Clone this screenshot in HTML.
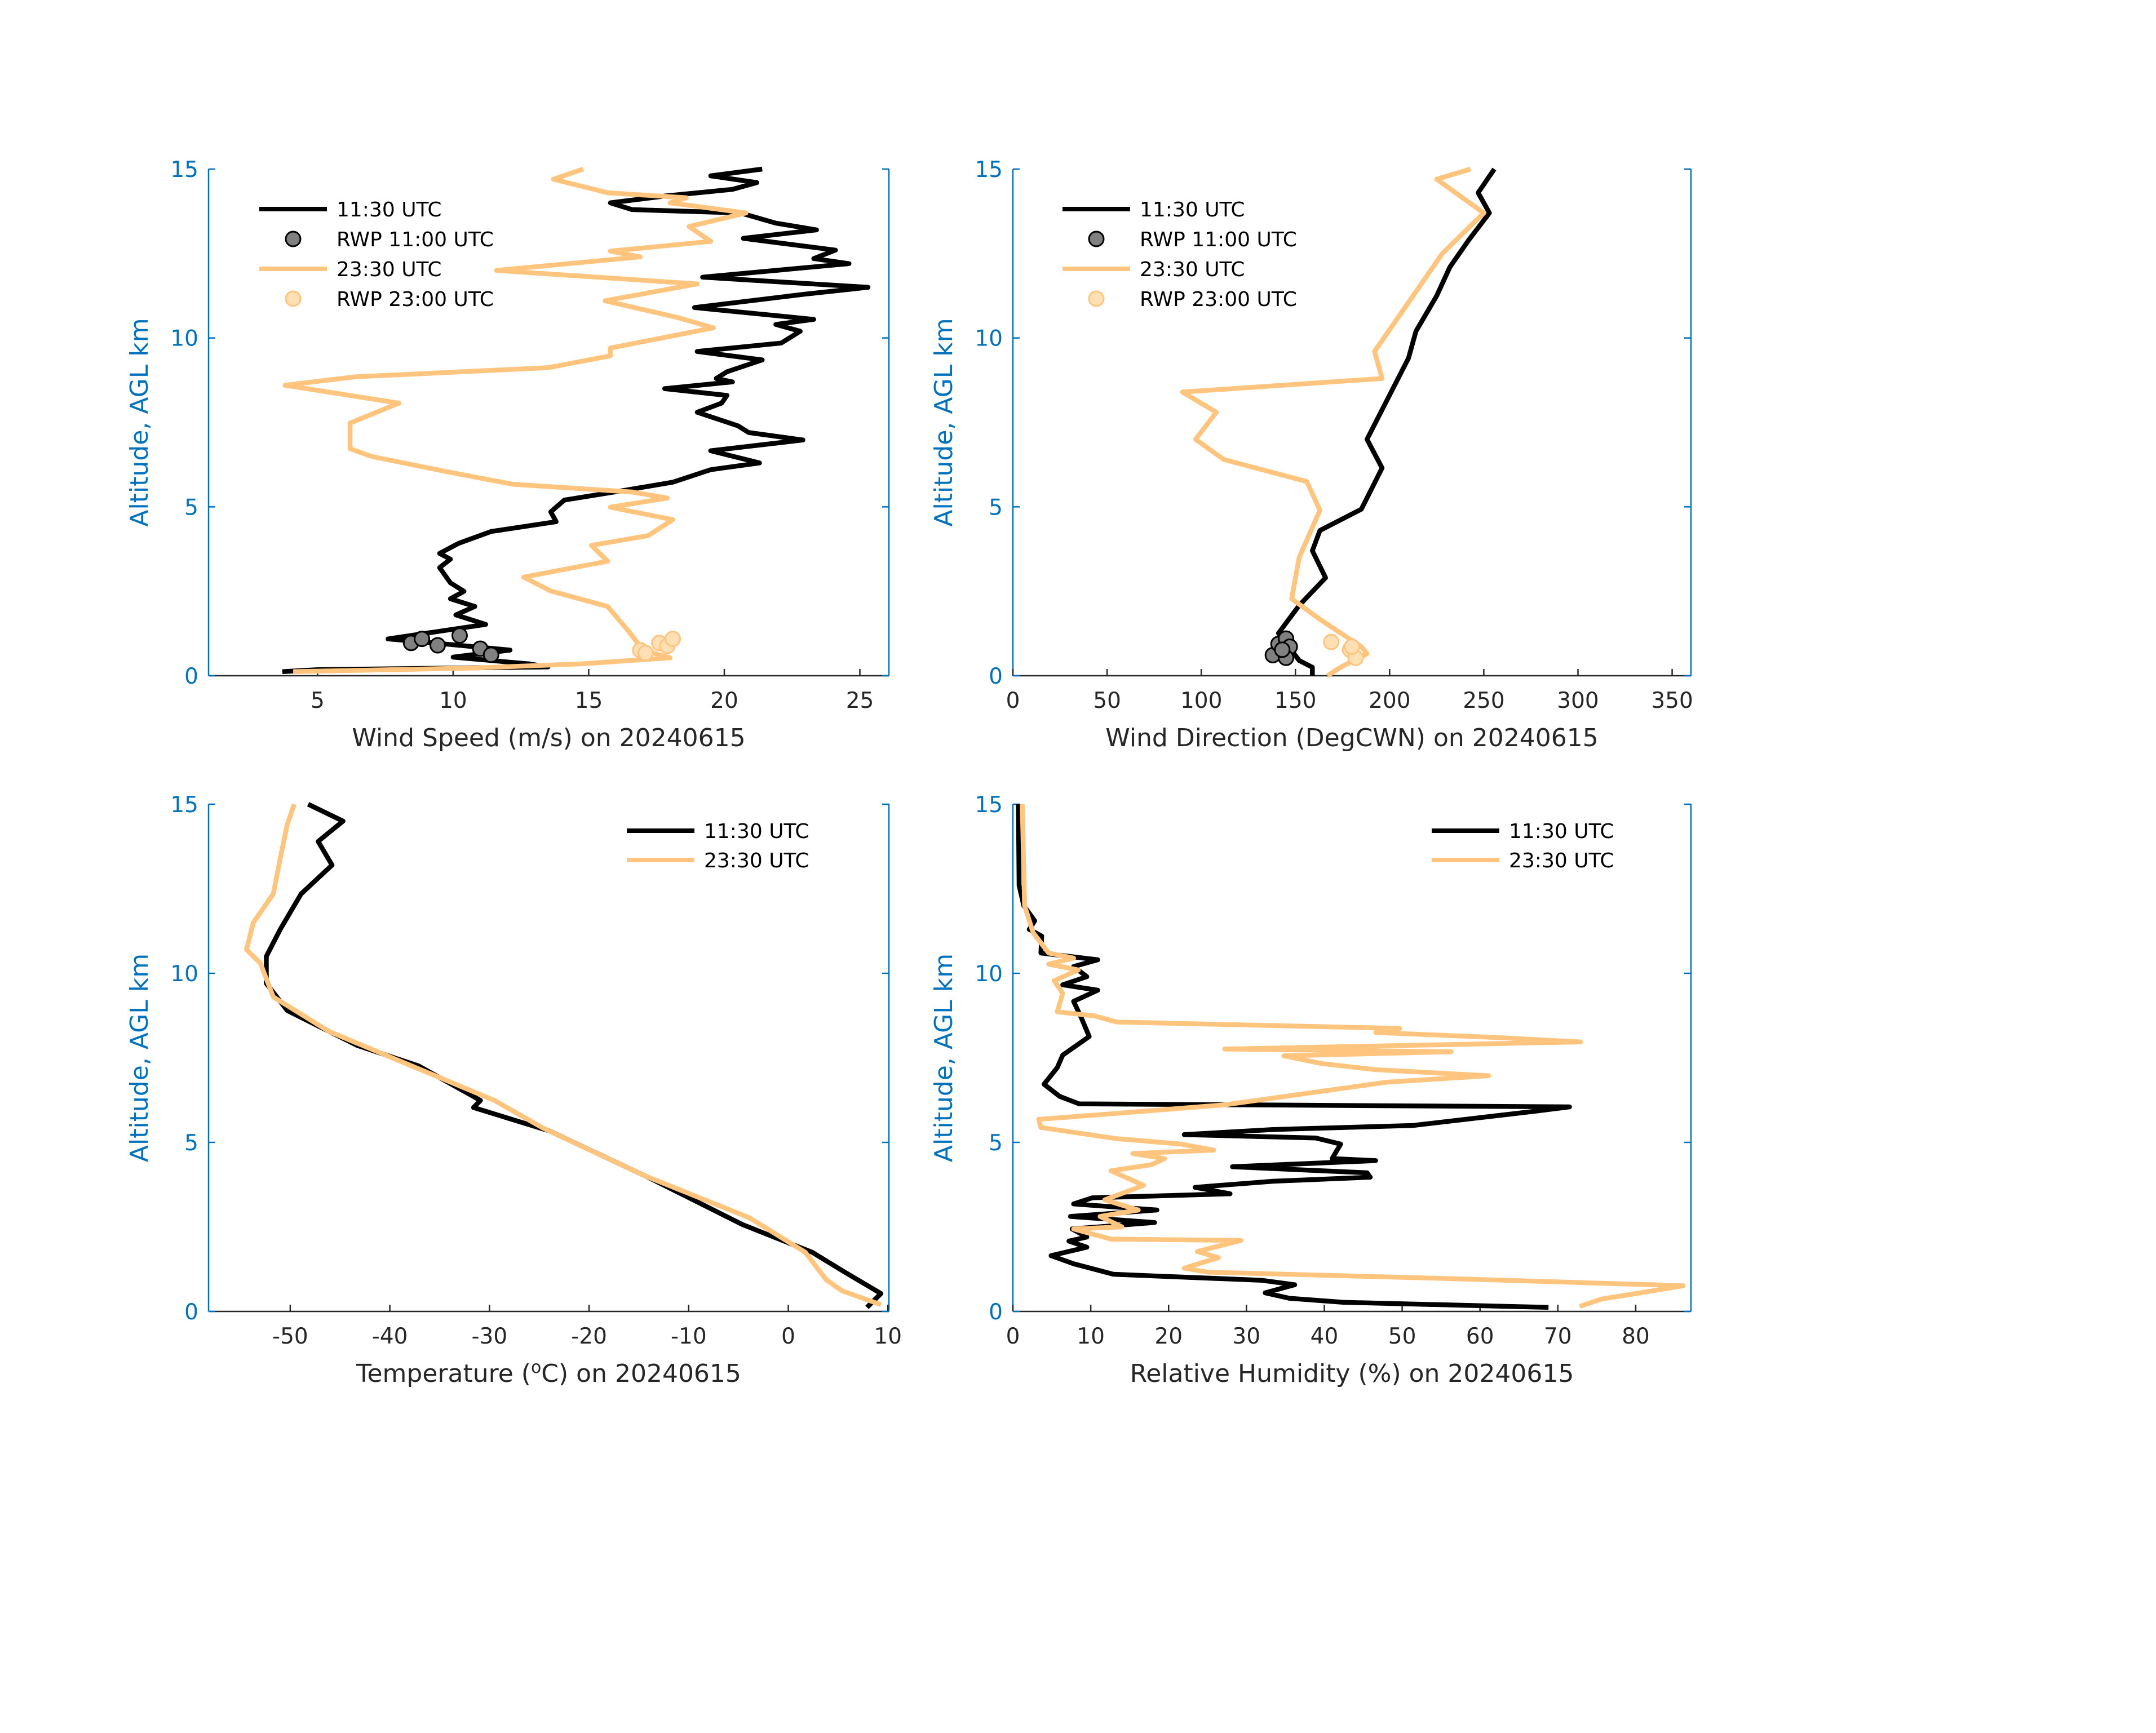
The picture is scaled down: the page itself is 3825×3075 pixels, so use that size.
<!DOCTYPE html>
<html><head><meta charset="utf-8"><style>
body{margin:0;background:#fff}
svg{display:block}
text{font-family:"DejaVu Sans","Liberation Sans",sans-serif}
</style></head><body>
<svg id="fig" width="3825" height="3075" viewBox="0 0 3825 3075" xmlns="http://www.w3.org/2000/svg"></svg>
<script>
// ---- data (alt in km) ----
const wsBlackX=[21.4,19.5,21.2,20.3,17.8,15.8,16.6,20.6,21.9,23.4,20.7,24.1,23.3,24.6,19.2,25.3,23.0,18.9,23.3,21.9,22.8,22.1,19.0,21.4,20.1,19.7,20.3,17.8,20.1,19.9,19.0,20.5,20.9,22.9,19.5,21.3,19.5,18.1,16.4,14.1,13.6,13.8,11.4,10.2,9.5,9.9,9.5,9.9,10.4,9.9,10.8,10.1,11.2,7.6,9.7,12.1,10.0,12.8,13.5,5.0,3.7];
const wsBlackY=[15,14.8,14.6,14.4,14.2,14.0,13.8,13.7,13.4,13.2,12.95,12.6,12.35,12.2,11.8,11.5,11.3,10.9,10.55,10.4,10.2,9.85,9.6,9.35,9.0,8.8,8.7,8.5,8.3,8.07,7.8,7.4,7.2,6.98,6.66,6.3,6.1,5.73,5.5,5.2,4.85,4.56,4.27,3.92,3.62,3.45,3.2,2.75,2.5,2.28,2.05,1.8,1.52,1.09,0.94,0.76,0.55,0.35,0.26,0.18,0.12];
const wsOrX=[14.8,13.7,15.7,18.6,18.0,20.8,18.7,19.5,15.8,16.9,11.6,19.0,15.6,18.3,19.6,15.8,15.8,13.5,6.4,3.8,8.0,6.2,6.2,7.0,9.9,12.2,16.6,17.9,15.8,18.1,17.2,15.1,15.7,12.6,13.6,15.7,16.5,17.0,18.0,14.7,10.8,4.1];
const wsOrY=[15,14.7,14.3,14.15,14.0,13.7,13.3,12.86,12.57,12.4,12.0,11.6,11.1,10.6,10.3,9.7,9.47,9.12,8.85,8.6,8.07,7.48,6.72,6.49,6.02,5.67,5.44,5.26,4.99,4.62,4.15,3.86,3.39,2.92,2.51,2.05,1.29,0.76,0.53,0.35,0.23,0.12];
const rwpAmWs=[8.45,8.85,9.43,10.24,11.0,11.4], rwpAmWsY=[0.97,1.09,0.9,1.19,0.8,0.62];
const rwpPmWs=[16.9,17.1,17.6,17.9,18.1], rwpPmWsY=[0.76,0.67,0.97,0.88,1.09];

const wdBlackX=[255.6,247,253,242,232,225,214,210,199,188,196,185,163,159,166,152,141,152,159,159];
const wdBlackY=[15,14.3,13.7,12.9,12.1,11.25,10.2,9.4,8.2,7.0,6.15,4.93,4.3,3.7,2.9,2.08,1.26,0.45,0.25,0];
const wdOrX=[243,225,250,228,210,192,196,90,108,97,112,156,163,152,148,163,185,188,174,167];
const wdOrY=[15,14.7,13.7,12.5,11.05,9.6,8.8,8.4,7.8,7.0,6.4,5.75,4.9,3.5,2.28,1.67,0.86,0.65,0.25,0];
const rwpAmWd=[138,141,145,147,145,143], rwpAmWdY=[0.61,0.94,1.1,0.86,0.53,0.77];
const rwpPmWd=[169,179,182,180], rwpPmWdY=[1.0,0.77,0.53,0.86];

const tBlackX=[-48.2,-44.7,-47.2,-45.8,-48.9,-51,-52.4,-52.4,-50.3,-43.3,-37.1,-30.9,-31.6,-24,-14.3,-4.6,2.4,5.8,9.3,7.9];
const tBlackY=[15,14.5,13.9,13.2,12.35,11.3,10.5,9.7,8.9,7.87,7.26,6.24,6.03,5.34,4.0,2.57,1.75,1.14,0.53,0.12];
const tOrX=[-49.6,-50.3,-51,-51.7,-53.7,-54.4,-53,-51.7,-46.1,-37.8,-29.5,-24.6,-14.3,-3.9,1.7,3.8,5.4,9.3];
const tOrY=[15,14.4,13.4,12.35,11.5,10.7,10.3,9.3,8.28,7.26,6.24,5.42,4.0,2.77,1.75,0.94,0.61,0.2];

const rhBlackX=[0.7,0.8,1.4,2.8,2.1,3.7,3.6,10.9,7.8,9.5,6.4,10.9,7.8,8.8,9.8,6.4,5.7,4.0,6.0,8.5,71.5,67.4,51.4,33.4,22,38.9,42.1,41,46.6,28.2,45.5,45.9,33.4,23.4,27.9,10.2,7.8,18.5,7.4,18.2,7.6,9.5,7.2,9.5,4.9,7.8,12.9,32,36.2,32.4,35.5,42.4,68.8];
const rhBlackY=[15,12.6,12.0,11.55,11.3,11.1,10.6,10.4,10.2,9.9,9.66,9.5,9.17,8.68,8.13,7.58,7.21,6.72,6.36,6.14,6.05,5.93,5.5,5.38,5.23,5.13,4.95,4.52,4.46,4.28,4.1,3.97,3.85,3.67,3.48,3.36,3.18,3.0,2.81,2.63,2.44,2.2,2.08,1.9,1.65,1.41,1.1,0.92,0.79,0.55,0.39,0.27,0.12];
const rhOrX=[1.2,1.5,2.6,4.6,7.8,4.6,8.4,5.3,6.4,5.7,10.5,13.3,49.7,46.6,63.2,72.9,27.2,56.3,34.8,39.7,46.6,61.1,48.0,27.2,14.0,3.3,3.6,13.3,21.6,25.8,15.4,19.5,17.8,12.6,16.8,11.8,16.1,11.2,14.0,7.8,12.6,29.3,23.7,26.4,22,25.1,54.9,86.1,80.6,75.7,72.8];
const rhOrY=[15,12.0,11.2,10.6,10.45,10.27,10.1,9.78,9.41,8.86,8.74,8.56,8.37,8.25,8.09,7.97,7.76,7.68,7.56,7.33,7.15,6.97,6.78,6.11,5.87,5.68,5.44,5.11,4.95,4.77,4.67,4.52,4.34,4.16,3.73,3.3,3.0,2.81,2.5,2.44,2.14,2.1,1.77,1.59,1.28,1.16,0.98,0.76,0.55,0.37,0.15];

const wsTicks=[5,10,15,20,25], wdTicks=[0,50,100,150,200,250,300,350], tTicks=[-50,-40,-30,-20,-10,0,10], rhTicks=[0,10,20,30,40,50,60,70,80];
const altTicks=[0,5,10,15];

const NS="http://www.w3.org/2000/svg";
const svg=document.getElementById('fig');
const BLUE="#0072BD", OR="#FFC57F", GR="#262626";
function mk(tag,attrs,parent){const e=document.createElementNS(NS,tag);for(const k in attrs)e.setAttribute(k,attrs[k]);(parent||svg).appendChild(e);return e;}

function panel(name,L,R,T,B,xmin,xmax,xt,xlabel,series,rwps,legend){
  const g=mk('g',{});
  
  
  const sx=v=>L+(v-xmin)/(xmax-xmin)*(R-L);
  const sy=a=>B-a/15*(B-T);
  const xa=mk('line',{x1:L,y1:B,x2:R,y2:B,stroke:GR,'stroke-width':2.5},g);
  
  const ya=mk('line',{x1:L,y1:T,x2:L,y2:B,stroke:BLUE,'stroke-width':2.5},g);
  
  const ra=mk('line',{x1:R,y1:T,x2:R,y2:B,stroke:BLUE,'stroke-width':2.5},g);
  
  xt.forEach(v=>{const x=sx(v);
    mk('line',{x1:x,y1:B,x2:x,y2:B-12,stroke:GR,'stroke-width':2.5},g);
    const t=mk('text',{x:x,y:B+57,'font-size':39,fill:GR,'text-anchor':'middle'},g);t.textContent=v;
    });
  altTicks.forEach(v=>{const y=sy(v);
    mk('line',{x1:L,y1:y,x2:L+12,y2:y,stroke:BLUE,'stroke-width':2.5},g);
    mk('line',{x1:R,y1:y,x2:R-12,y2:y,stroke:BLUE,'stroke-width':2.5},g);
    const t=mk('text',{x:L-18,y:y+14,'font-size':39,fill:BLUE,'text-anchor':'end'},g);t.textContent=v;
    });
  const xl=mk('text',{x:(L+R)/2,y:B+125,'font-size':44,fill:GR,'text-anchor':'middle'},g);xl.innerHTML=xlabel;
  
  const yx=L-108, yc=(T+B)/2;
  const yl=mk('text',{x:yx,y:yc,'font-size':44,fill:BLUE,'text-anchor':'middle',transform:`rotate(-90 ${yx} ${yc})`},g);yl.textContent='Altitude, AGL km';
  
  series.forEach(s=>{
    const d=s.x.map((v,i)=>(i?'L':'M')+sx(v).toFixed(1)+' '+sy(s.y[i]).toFixed(1)).join(' ');
    const p=mk('path',{d:d,fill:'none',stroke:s.c,'stroke-width':8.5,'stroke-linejoin':'round','stroke-linecap':'butt'},g);
    
  });
  (rwps||[]).forEach(s=>{s.x.forEach((v,i)=>{
    const c=mk('circle',{cx:sx(v),cy:sy(s.y[i]),r:13,fill:s.f,stroke:s.c,'stroke-width':3},g);
    });});
  const lg=mk('g',{},g);
  
  legend.items.forEach((it,i)=>{const y=legend.y+i*legend.dy;
    if(it.type==='line') mk('line',{x1:legend.x,y1:y,x2:legend.x+120,y2:y,stroke:it.c,'stroke-width':8},lg);
    else mk('circle',{cx:legend.x+60,cy:y,r:13,fill:it.f,stroke:it.c,'stroke-width':3},lg);
    const t=mk('text',{x:legend.x+137,y:y+13,'font-size':36,fill:'#000'},lg);t.textContent=it.t;
    });
}
const L4=[{type:'line',c:'#000',t:'11:30 UTC'},{type:'pt',c:'#000',f:'#808080',t:'RWP 11:00 UTC'},{type:'line',c:OR,t:'23:30 UTC'},{type:'pt',c:OR,f:'#FFE0B5',t:'RWP 23:00 UTC'}];
const L2=[{type:'line',c:'#000',t:'11:30 UTC'},{type:'line',c:OR,t:'23:30 UTC'}];

panel('wind-speed-panel',370,1577,300,1199,0.98,26.07,wsTicks,'Wind Speed (m/s) on 20240615',
 [{x:wsBlackX,y:wsBlackY,c:'#000',n:'line-1130'},{x:wsOrX,y:wsOrY,c:OR,n:'line-2330'}],
 [{x:rwpAmWs,y:rwpAmWsY,c:'#000',f:'#808080',n:'rwp-1100-point'},{x:rwpPmWs,y:rwpPmWsY,c:OR,f:'#FFE0B5',n:'rwp-2300-point'}],
 {x:460,y:371,dy:53,items:L4});
panel('wind-direction-panel',1797,3000,300,1199,0,360,wdTicks,'Wind Direction (DegCWN) on 20240615',
 [{x:wdBlackX,y:wdBlackY,c:'#000',n:'line-1130'},{x:wdOrX,y:wdOrY,c:OR,n:'line-2330'}],
 [{x:rwpAmWd,y:rwpAmWdY,c:'#000',f:'#808080',n:'rwp-1100-point'},{x:rwpPmWd,y:rwpPmWdY,c:OR,f:'#FFE0B5',n:'rwp-2300-point'}],
 {x:1885,y:371,dy:53,items:L4});
panel('temperature-panel',370,1577,1427,2327,-58.2,10.1,tTicks,'Temperature (<tspan dy="-16" font-size="30">o</tspan><tspan dy="16">C) on 20240615</tspan>',
 [{x:tBlackX,y:tBlackY,c:'#000',n:'line-1130'},{x:tOrX,y:tOrY,c:OR,n:'line-2330'}],[],
 {x:1112,y:1474,dy:52,items:L2});
panel('humidity-panel',1797,3000,1427,2327,0,87.1,rhTicks,'Relative Humidity (%) on 20240615',
 [{x:rhBlackX,y:rhBlackY,c:'#000',n:'line-1130'},{x:rhOrX,y:rhOrY,c:OR,n:'line-2330'}],[],
 {x:2540,y:1474,dy:52,items:L2});
</script>
</body></html>
